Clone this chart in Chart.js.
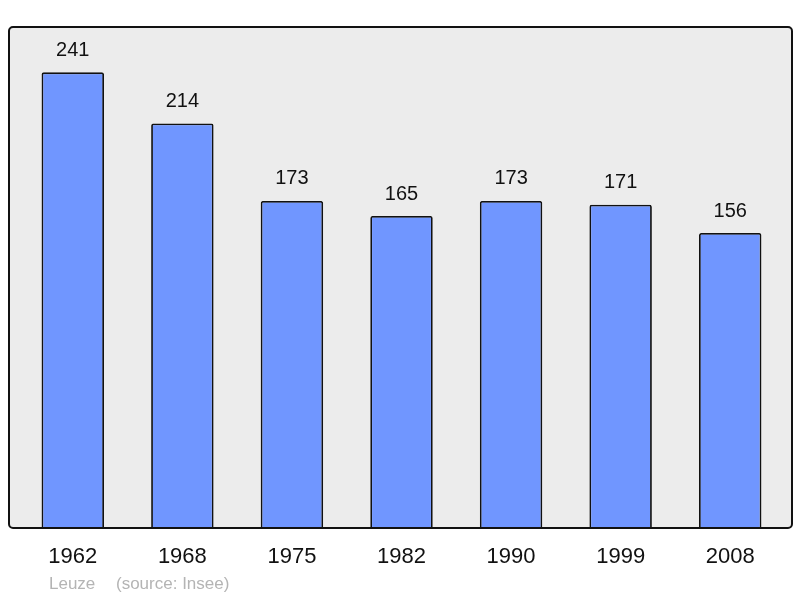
<!DOCTYPE html>
<html>
<head>
<meta charset="utf-8">
<script src="https://cdn.jsdelivr.net/npm/chart.js@4/dist/chart.umd.min.js"></script>
<style>
html,body{margin:0;padding:0;background:#fff;}
#wrap{width:800px;height:598px;}
</style>
</head>
<body>
<div id="wrap"><canvas id="graphique"></canvas></div>
<script>
const annees = ["1962","1968","1975","1982","1990","1999","2008"];
const population = [241,214,173,165,173,171,156];
const commune = "Leuze";
const source = "(source: Insee)";

// fond gris + cadre, valeurs au-dessus des barres, pied de page
const decor = {
  id: "decor",
  beforeDatasetsDraw(chart) {
    const a = chart.chartArea, c = chart.ctx;
    const x0 = a.left - 9, x1 = a.right + 7, y0 = a.top, y1 = a.bottom;
    c.save();
    c.beginPath();
    c.roundRect(x0, y0, x1 - x0, y1 - y0, 4);
    c.fillStyle = "#ececec";
    c.fill();
    c.restore();
  },
  afterDatasetsDraw(chart) {
    const a = chart.chartArea, c = chart.ctx;
    const x0 = a.left - 9, x1 = a.right + 7, y0 = a.top, y1 = a.bottom;
    c.save();
    c.beginPath();
    c.roundRect(x0, y0, x1 - x0, y1 - y0, 4);
    c.lineWidth = 2;
    c.strokeStyle = "#111";
    c.stroke();
    c.font = "20px 'Liberation Sans', Arial, sans-serif";
    c.fillStyle = "#111";
    c.textAlign = "center";
    c.textBaseline = "middle";
    chart.getDatasetMeta(0).data.forEach((bar, i) => {
      c.fillText(String(population[i]), bar.x, bar.y - 22);
    });
    c.font = "17px 'Liberation Sans', Arial, sans-serif";
    c.fillStyle = "#b4b4b4";
    c.textAlign = "left";
    c.fillText(commune, 49, 584);
    c.fillText(source, 116, 584);
    c.restore();
  }
};

new Chart(document.getElementById("graphique"), {
  type: "bar",
  data: {
    labels: annees,
    datasets: [{
      data: population,
      backgroundColor: "rgb(112,150,255)",
      borderColor: "#111",
      borderWidth: 1.8,
      borderRadius: 2,
      borderSkipped: "bottom",
      barPercentage: 0.57,
      categoryPercentage: 1
    }]
  },
  options: {
    responsive: true,
    maintainAspectRatio: false,
    animation: false,
    layout: { padding: { left: 18, right: 15, top: 27, bottom: 11.6 } },
    plugins: { legend: { display: false }, tooltip: { enabled: false } },
    scales: {
      x: {
        grid: { display: false, drawTicks: false },
        border: { display: false },
        ticks: {
          color: "#111",
          padding: 16,
          font: { family: "'Liberation Sans', Arial, sans-serif", size: 22 }
        }
      },
      y: {
        display: false,
        min: 0,
        max: 265
      }
    }
  },
  plugins: [decor]
});
</script>
</body>
</html>
